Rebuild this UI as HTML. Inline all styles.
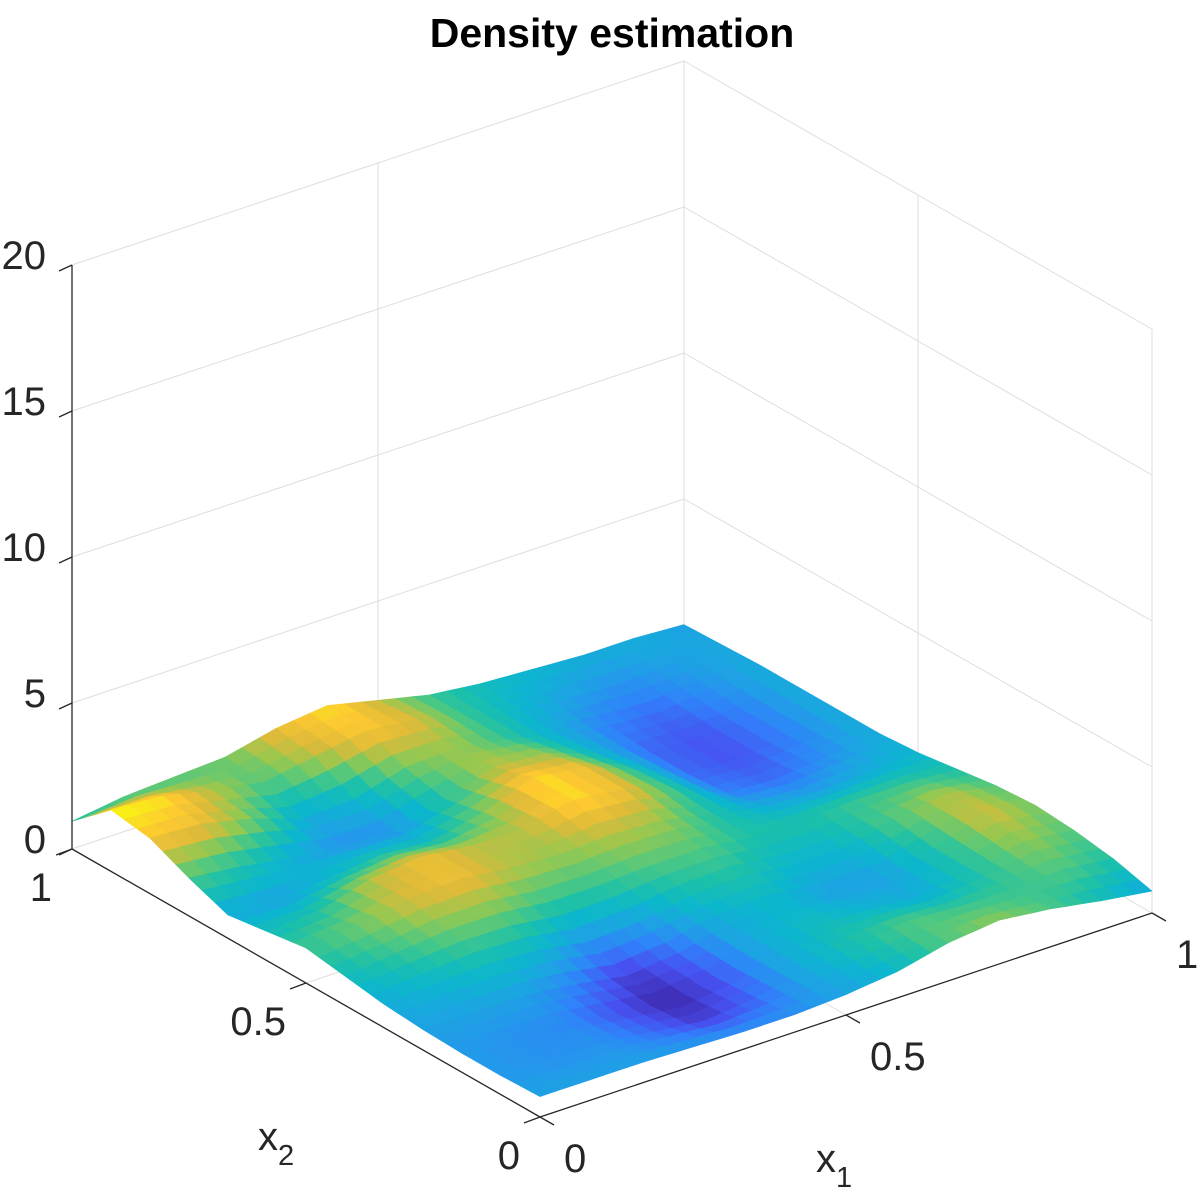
<!DOCTYPE html>
<html>
<head>
<meta charset="utf-8">
<style>
  html,body{margin:0;padding:0;background:#fff;}
  svg{display:block;}
  text{font-family:"Liberation Sans",Arial,sans-serif;fill:#262626;}
</style>
</head>
<body>
<svg id="chart" width="1200" height="1200" viewBox="0 0 1200 1200">
  <text x="612" y="47" text-anchor="middle" font-size="41" font-weight="bold" fill="#000" style="fill:#000">Density estimation</text>
  <g id="grid"></g>
  <g id="surface"></g>
  <g id="axes"></g>
  <text x="258" y="1150" font-size="40">x<tspan font-size="29" dy="15">2</tspan></text>
  <text x="816" y="1172" font-size="40">x<tspan font-size="29" dy="15">1</tspan></text>
</svg>
<script>
const zTicks = [0, 5, 10, 15, 20];
const x1Ticks = [0, 0.5, 1];
const x2Ticks = [0, 0.5, 1];
const zTickLabels = ["0", "5", "10", "15", "20"];
const x1TickLabels = ["0", "0.5", "1"];
const x2TickLabels = ["0", "0.5", "1"];
// density values: rows = x1 (0..1), columns = x2 (0..1)
const density = [
  [0.7,0.65,0.65,0.7,0.8,1.0,1.2,1.0,0.8,1.3,1.9,2.1,0.95],
  [0.7,0.6,0.6,0.7,0.9,1.2,1.4,1.1,0.7,1.1,1.8,2.0,1.2],
  [0.7,0.6,0.55,0.7,1.0,1.4,1.7,1.6,0.9,0.8,1.4,1.6,1.3],
  [0.65,0.4,0.3,0.5,0.9,1.4,1.8,1.8,1.1,0.6,0.8,1.3,1.4],
  [0.6,0.2,0.1,0.2,0.6,1.2,1.6,1.6,1.0,0.6,0.9,1.6,1.8],
  [0.6,0.4,0.3,0.4,0.7,1.2,1.5,1.6,1.4,1.1,1.4,1.9,2.0],
  [0.7,0.8,0.8,0.8,1.0,1.3,1.6,2.0,2.0,1.6,1.5,1.7,1.6],
  [0.9,1.1,1.0,0.9,1.1,1.3,1.5,1.8,1.8,1.5,1.2,1.2,1.2],
  [1.3,1.3,0.9,0.7,0.9,1.1,1.1,1.2,1.1,0.9,0.8,0.9,1.0],
  [1.5,1.2,0.8,0.7,0.9,1.1,0.8,0.5,0.4,0.4,0.5,0.7,0.9],
  [1.3,1.2,1.1,1.1,1.3,1.2,0.7,0.4,0.3,0.3,0.4,0.6,0.8],
  [1.0,1.3,1.5,1.7,1.6,1.2,0.8,0.6,0.5,0.5,0.6,0.7,0.8],
  [0.75,1.1,1.3,1.4,1.3,1.1,0.9,0.8,0.8,0.8,0.8,0.75,0.7]
];

const NS = "http://www.w3.org/2000/svg";
const O = [540, 1117], VX1 = [612, -204], VX2 = [-468, -268], ZS = 29.2;
function P(x1, x2, z) {
  return [O[0] + VX1[0]*x1 + VX2[0]*x2, O[1] + VX1[1]*x1 + VX2[1]*x2 - ZS*z];
}
function mk(tag, attrs, parent) {
  const el = document.createElementNS(NS, tag);
  for (const k in attrs) el.setAttribute(k, attrs[k]);
  parent.appendChild(el);
  return el;
}
const stops = [[62,38,168],[71,82,242],[48,130,250],[30,162,228],[12,182,206],[28,192,170],[80,200,128],[150,200,80],[220,186,58],[252,200,50],[249,251,14]];
function parula(t) {
  t = Math.max(0, Math.min(1, t)) * (stops.length - 1);
  const i = Math.min(stops.length - 2, Math.floor(t)), f = t - i;
  const a = stops[i], b = stops[i+1];
  return "rgb(" + [0,1,2].map(k => Math.round(a[k] + (b[k]-a[k])*f)).join(",") + ")";
}

const grid = document.getElementById("grid");
const gl = {stroke: "#dedede", "stroke-width": 1, fill: "none"};
function line(g, p, q, attrs) {
  return mk("line", Object.assign({x1: p[0], y1: p[1], x2: q[0], y2: q[1]}, attrs), g);
}
zTicks.forEach(z => {
  if (z === 0) return;
  const l1 = line(grid, P(0,1,z), P(1,1,z), gl);
  
  
  const l2 = line(grid, P(1,1,z), P(1,0,z), gl);
  
  
});
x1Ticks.forEach(t => {
  const l = line(grid, P(t,1,0), P(t,1,20), gl);
  
  
  const f = line(grid, P(t,0,0), P(t,1,0), gl);
  
  
});
x2Ticks.forEach(t => {
  const l = line(grid, P(1,t,0), P(1,t,20), gl);
  
  
  const f = line(grid, P(0,t,0), P(1,t,0), gl);
  
  
});

const surf = document.getElementById("surface");
const n = density.length, m = density[0].length;
let zmin = Infinity, zmax = -Infinity;
density.forEach(r => r.forEach(v => { zmin = Math.min(zmin, v); zmax = Math.max(zmax, v); }));
const S = 3;
const N1 = (n-1)*S, N2 = (m-1)*S;
function zAt(u, v) {
  const i = Math.min(n-2, Math.floor(u)), j = Math.min(m-2, Math.floor(v));
  const fu = u - i, fv = v - j;
  return density[i][j]*(1-fu)*(1-fv) + density[i+1][j]*fu*(1-fv) + density[i][j+1]*(1-fu)*fv + density[i+1][j+1]*fu*fv;
}
const faces = [];
for (let a = 0; a < N1; a++) {
  for (let b = 0; b < N2; b++) {
    const us = [a/S, (a+1)/S], vs = [b/S, (b+1)/S];
    const c = [[us[0],vs[0]],[us[1],vs[0]],[us[1],vs[1]],[us[0],vs[1]]];
    const zs = c.map(q => zAt(q[0], q[1]));
    const pts = c.map((q, k) => P(q[0]/(n-1), q[1]/(m-1), zs[k]));
    const zm = (zs[0]+zs[1]+zs[2]+zs[3]) / 4;
    faces.push({pts, zm, depth: (a + b)});
  }
}
faces.sort((p, q) => q.depth - p.depth);
faces.forEach(f => {
  const col = parula((f.zm - zmin) / (zmax - zmin));
  const poly = mk("polygon", {points: f.pts.map(p => p[0].toFixed(1) + "," + p[1].toFixed(1)).join(" "), fill: col, stroke: col, "stroke-width": 0.6, "stroke-linejoin": "round"}, surf);
  
  
});

const axes = document.getElementById("axes");
const al = {stroke: "#262626", "stroke-width": 1.3};
const za = line(axes, P(0,1,0), P(0,1,20), al);


const x2a = line(axes, P(0,0,0), P(0,1,0), al);


const x1a = line(axes, P(0,0,0), P(1,0,0), al);



zTicks.forEach((z, k) => {
  const p = P(0,1,z);
  const t = line(axes, p, [p[0]-13, p[1]+6], al);
  
  
  const tx = mk("text", {x: p[0]-26, y: p[1]+4, "text-anchor": "end", "font-size": 40}, axes);
  tx.textContent = zTickLabels[k];
  
  
});
x2Ticks.forEach((v, k) => {
  const p = P(0,v,0);
  const t = line(axes, p, [p[0]-16, p[1]+6], al);
  
  
  const tx = mk("text", {x: p[0]-20, y: p[1]+52, "text-anchor": "end", "font-size": 40}, axes);
  tx.textContent = x2TickLabels[k];
  
  
});
x1Ticks.forEach((v, k) => {
  const p = P(v,0,0);
  const t = line(axes, p, [p[0]+14, p[1]+8], al);
  
  
  const tx = mk("text", {x: p[0]+24, y: p[1]+55, "text-anchor": "start", "font-size": 40}, axes);
  tx.textContent = x1TickLabels[k];
  
  
});
</script>
</body>
</html>
